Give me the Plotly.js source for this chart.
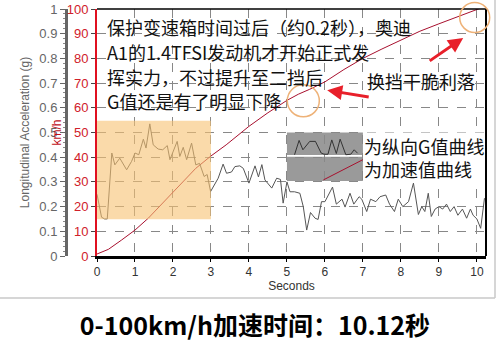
<!DOCTYPE html>
<html>
<head>
<meta charset="utf-8">
<script src="https://cdn.plot.ly/plotly-3.0.1.min.js"></script>
<style>html,body{margin:0;padding:0;background:#fff;}#chart{width:500px;height:351px;}</style>
</head>
<body>
<div id="chart"></div>
<script>
// Speed (km/h) vs time (s)
const speedTime = [0, 0.3, 0.65, 1.0, 1.35, 2.0, 2.6, 3.0, 3.4, 4.0, 4.5, 5.0, 5.3, 5.6, 6.0, 6.5, 7.0, 7.5, 8.0, 8.5, 9.0, 9.5, 10.0, 10.12];
const speedValue = [0.8, 2.7, 6.5, 10.5, 15.3, 26, 35.5, 40.5, 45, 52.5, 58, 63, 65.5, 67.5, 70.5, 75.5, 80, 83.8, 87.5, 91, 94, 96.8, 99.8, 100.5];

// Longitudinal acceleration (g) vs time (s)
const gTime = [0.00, 0.06, 0.12, 0.2, 0.27, 0.39, 0.47, 0.6, 0.7, 0.78, 0.91, 1.0, 1.1, 1.22, 1.29, 1.39, 1.48, 1.61, 1.73, 1.85, 1.92, 2.11, 2.18, 2.27, 2.36, 2.49, 2.6, 2.7, 2.82, 2.9, 2.99, 3.06, 3.19, 3.32, 3.41, 3.54, 3.63, 3.76, 3.85, 4.0, 4.16, 4.25, 4.34, 4.42, 4.6, 4.73, 4.83, 4.9, 5.0, 5.08, 5.2, 5.34, 5.43, 5.52, 5.62, 5.74, 5.82, 5.91, 6.0, 6.2, 6.3, 6.45, 6.53, 6.66, 6.76, 6.9, 6.97, 7.1, 7.2, 7.34, 7.45, 7.6, 7.7, 7.83, 7.93, 8.05, 8.2, 8.33, 8.46, 8.55, 8.63, 8.72, 8.8, 8.9, 9.0, 9.1, 9.2, 9.3, 9.4, 9.5, 9.62, 9.73, 9.83, 9.9, 10.0, 10.1, 10.15, 10.2];
const gValue = [0.25, 0.20, 0.157, 0.15, 0.15, 0.417, 0.369, 0.396, 0.37, 0.349, 0.383, 0.417, 0.41, 0.473, 0.437, 0.535, 0.45, 0.433, 0.43, 0.447, 0.39, 0.464, 0.403, 0.44, 0.39, 0.457, 0.369, 0.375, 0.322, 0.33, 0.261, 0.28, 0.315, 0.372, 0.335, 0.34, 0.362, 0.365, 0.355, 0.295, 0.365, 0.32, 0.37, 0.308, 0.275, 0.315, 0.31, 0.214, 0.30, 0.26, 0.26, 0.254, 0.2, 0.105, 0.176, 0.153, 0.148, 0.22, 0.22, 0.279, 0.21, 0.23, 0.198, 0.254, 0.21, 0.24, 0.23, 0.18, 0.23, 0.22, 0.24, 0.247, 0.21, 0.18, 0.23, 0.2, 0.22, 0.295, 0.168, 0.2, 0.18, 0.254, 0.16, 0.19, 0.2, 0.19, 0.21, 0.18, 0.2, 0.165, 0.19, 0.153, 0.19, 0.165, 0.15, 0.112, 0.165, 0.234];

// Legend samples drawn inside the grey key boxes
const sampleGTime = [5.2, 5.32, 5.42, 5.6, 5.75, 5.9, 5.98, 6.08, 6.18, 6.3, 6.4, 6.55, 6.68, 6.77, 6.86];
const sampleGValue = [41, 46.8, 43, 46.4, 46.4, 41.7, 41.2, 41.2, 47, 41.5, 47.3, 41, 41.2, 43, 41.6];
const sampleSpeedTime = [5.96, 7.0];
const sampleSpeedValue = [30.8, 39];

// Labels
const xTickVals = [0,1,2,3,4,5,6,7,8,9,10];
const titleText = '<b>0-100km/h加速时间：10.12秒</b>';
const noteLines = ['保护变速箱时间过后（约0.2秒），奥迪', 'A1的1.4TFSI发动机才开始正式发', '挥实力，不过提升至二挡后', 'G值还是有了明显下降'];
const shiftNote = '换挡干脆利落';
const keyLines = ['为纵向G值曲线', '为加速值曲线'];

const cjk = '"Noto Sans CJK SC", "Noto Sans", sans-serif';
const sans = '"Liberation Sans", Arial, sans-serif';

const traces = [
  {x: gTime, y: gValue, yaxis: 'y2', type: 'scatter', mode: 'lines', line: {color: '#555', width: 1}, hoverinfo: 'skip'},
  {x: speedTime, y: speedValue, type: 'scatter', mode: 'lines', line: {color: '#a8102e', width: 1}, hoverinfo: 'skip'},
  {x: sampleGTime, y: sampleGValue, type: 'scatter', mode: 'lines', line: {color: '#333', width: 1}, hoverinfo: 'skip'},
  {x: sampleSpeedTime, y: sampleSpeedValue, type: 'scatter', mode: 'lines', line: {color: '#a8102e', width: 1}, hoverinfo: 'skip'}
];

const pxX = px => (px - 66) / 420;
const pxY = py => (256 - py) / 247;

const noteCenters = [27.5, 52, 77, 101];
const noteAnnotations = noteLines.map((t, i) => ({
  xref: 'paper', yref: 'paper', x: pxX(105), y: pxY(noteCenters[i]), xanchor: 'left', yanchor: 'middle',
  showarrow: false, text: t, font: {family: cjk, size: 18, color: '#111'}
}));

const layout = {
  width: 500, height: 351,
  margin: {l: 66, r: 14, t: 9, b: 95},
  paper_bgcolor: '#fff', plot_bgcolor: '#fff',
  showlegend: false,
  title: {text: titleText, x: 0.51, xanchor: 'center', y: 0.071, yanchor: 'middle', font: {family: cjk, size: 25, color: '#000'}},
  xaxis: {
    domain: [31/420, 1], range: [0, 10.24], tickvals: xTickVals,
    showgrid: true, gridcolor: '#888', griddash: 'dash', gridwidth: 1,
    zeroline: false, showline: true, linecolor: '#000', linewidth: 3,
    ticks: 'outside', ticklen: 3, tickcolor: '#000',
    tickfont: {family: sans, size: 12, color: '#333'},
    title: {text: 'Seconds', font: {family: sans, size: 12, color: '#333'}, standoff: 4}
  },
  yaxis: {
    range: [0, 100], dtick: 10,
    showgrid: true, gridcolor: '#888', griddash: 'dash', gridwidth: 1,
    zeroline: false, showline: true, linecolor: '#e01020', linewidth: 2,
    ticks: 'outside', ticklen: 4, tickcolor: '#444',
    tickfont: {family: sans, size: 13, color: '#d0202a'},
    title: {text: 'km/h', font: {family: sans, size: 12, color: '#c0101a'}, standoff: 2}
  },
  yaxis2: {
    overlaying: 'y', anchor: 'free', position: 0, side: 'left',
    range: [0, 1], dtick: 0.1, showgrid: false, zeroline: false,
    showline: true, linecolor: '#666', linewidth: 3,
    ticks: 'outside', ticklen: 5, tickcolor: '#666',
    minor: {ticks: 'outside', ticklen: 2, tickcolor: '#888', dtick: 0.02},
    tickfont: {family: sans, size: 13, color: '#666'},
    title: {text: 'Longitudinal Acceleration (g)', font: {family: sans, size: 12, color: '#666'}, standoff: 6}
  },
  shapes: [
    {type: 'rect', xref: 'x', yref: 'y', x0: 0, x1: 3, y0: 14.9, y1: 54.8, fillcolor: 'rgb(247,193,113)', opacity: 0.6, line: {width: 0}, layer: 'above'},
    {type: 'rect', xref: 'x', yref: 'y', x0: 5, x1: 7, y0: 40.9, y1: 50, fillcolor: '#9a9a9a', line: {width: 0}, layer: 'below'},
    {type: 'rect', xref: 'x', yref: 'y', x0: 5, x1: 7, y0: 30.4, y1: 40.2, fillcolor: '#9a9a9a', line: {width: 0}, layer: 'below'},
    {type: 'line', xref: 'paper', yref: 'paper', x0: 31/420, x1: 1, y0: 1, y1: 1, line: {color: '#000', width: 1.5}},
    {type: 'line', xref: 'paper', yref: 'paper', x0: 1, x1: 1, y0: 0, y1: 1, line: {color: '#000', width: 2}},
    {type: 'circle', xref: 'paper', yref: 'paper', x0: pxX(287.3), x1: pxX(319.3), y0: pxY(116.8), y1: pxY(84.8), line: {color: 'rgb(238,178,120)', width: 1.5}, layer: 'above'},
    {type: 'circle', xref: 'paper', yref: 'paper', x0: pxX(459.7), x1: pxX(489.7), y0: pxY(32.5), y1: pxY(2.5), line: {color: 'rgb(238,178,120)', width: 1.5}, layer: 'above'},
    {type: 'line', xref: 'paper', yref: 'paper', x0: pxX(0), x1: pxX(495), y0: pxY(298), y1: pxY(298), line: {color: '#c8c8c8', width: 1.5}},
    {type: 'line', xref: 'paper', yref: 'paper', x0: pxX(495), x1: pxX(495), y0: pxY(298), y1: pxY(0), line: {color: '#c8c8c8', width: 1.5}}
  ],
  annotations: noteAnnotations.concat([
    {xref: 'paper', yref: 'paper', x: pxX(365), y: pxY(81), xanchor: 'left', yanchor: 'middle', showarrow: false,
     text: shiftNote, font: {family: cjk, size: 18, color: '#111'}},
    {xref: 'paper', yref: 'paper', x: pxX(363), y: pxY(157.5), xanchor: 'left', yanchor: 'middle', align: 'left', showarrow: false,
     text: keyLines.join('<br>'), bgcolor: '#fff', borderpad: 0, font: {family: cjk, size: 18, color: '#111'}},
    {xref: 'x', yref: 'y', x: 6.06, y: 67.1, ax: 43, ay: 7, showarrow: true, arrowhead: 2, arrowsize: 1, arrowwidth: 3, arrowcolor: '#e8202a', text: ''},
    {xref: 'x', yref: 'y', x: 9.64, y: 88.3, ax: -35, ay: 24, showarrow: true, arrowhead: 2, arrowsize: 1, arrowwidth: 3, arrowcolor: '#e8202a', text: ''}
  ])
};

Plotly.newPlot('chart', traces, layout, {displayModeBar: false, staticPlot: true});
</script>
</body>
</html>
